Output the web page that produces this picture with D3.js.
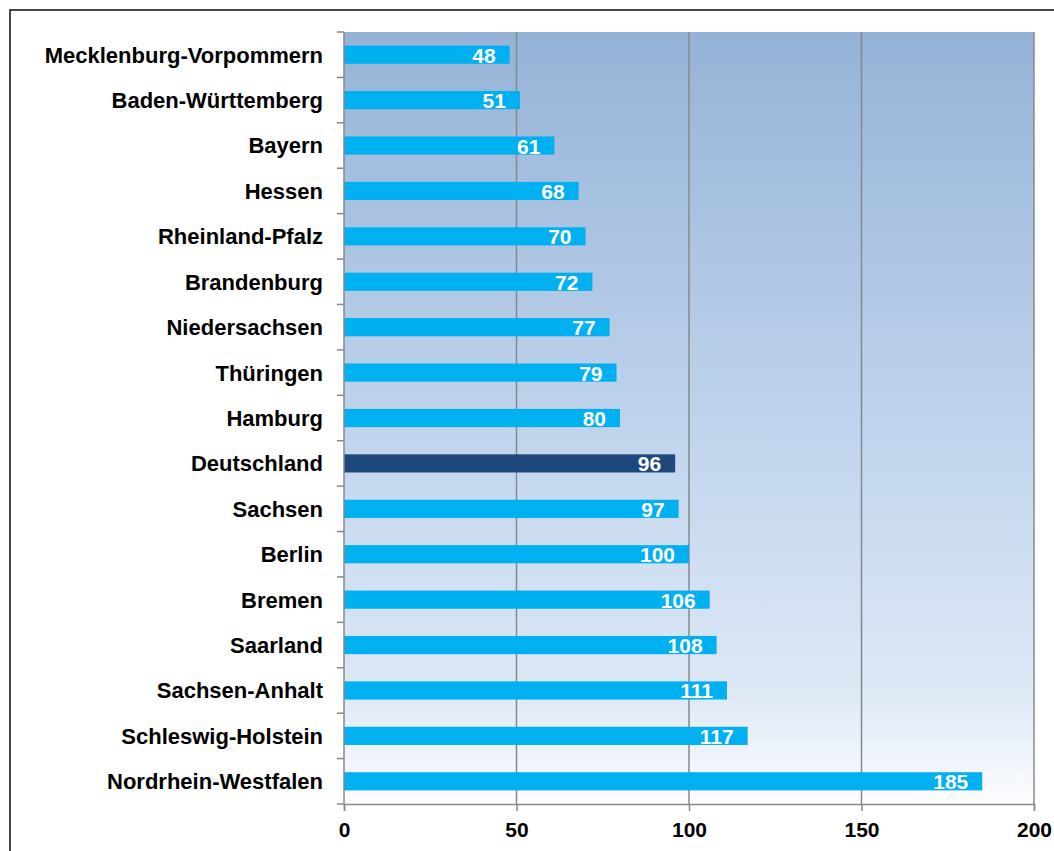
<!DOCTYPE html>
<html>
<head>
<meta charset="utf-8">
<script src="https://cdn.jsdelivr.net/npm/d3@7"></script>
<style>
  body { margin:0; background:#fff; }
  svg { display:block; font-family:"Liberation Sans", Arial, sans-serif; }
</style>
</head>
<body>
<div id="chart"></div>
<script>
// data, top to bottom
var laender = ["Mecklenburg-Vorpommern","Baden-Württemberg","Bayern","Hessen","Rheinland-Pfalz",
  "Brandenburg","Niedersachsen","Thüringen","Hamburg","Deutschland","Sachsen","Berlin","Bremen",
  "Saarland","Sachsen-Anhalt","Schleswig-Holstein","Nordrhein-Westfalen"];
var werte = [48,51,61,68,70,72,77,79,80,96,97,100,106,108,111,117,185];
var xTicks = [0,50,100,150,200];
var highlight = "Deutschland";

var W = 1054, H = 851;
var margin = {top:32, right:20, bottom:47, left:344};
var width = 1034 - margin.left, height = 804 - margin.top;

var svg = d3.select("#chart").append("svg")
    .attr("width", W).attr("height", H);

// outer frame
svg.append("rect")
    .attr("x", 10).attr("y", 10).attr("width", W + 20).attr("height", H + 20)
    .attr("fill", "none").attr("stroke", "#1a1a1a").attr("stroke-width", 1.6);

var defs = svg.append("defs");
var grad = defs.append("linearGradient").attr("id", "bg")
    .attr("x1", 0).attr("y1", 0).attr("x2", 0).attr("y2", 1);
grad.append("stop").attr("offset", "0%").attr("stop-color", "#95b3d7");
grad.append("stop").attr("offset", "55%").attr("stop-color", "#c3d6ee");
grad.append("stop").attr("offset", "85%").attr("stop-color", "#dde8f6");
grad.append("stop").attr("offset", "100%").attr("stop-color", "#fcfdff");

var g = svg.append("g").attr("transform", "translate(" + margin.left + "," + margin.top + ")");

g.append("rect").attr("width", width).attr("height", height).attr("fill", "url(#bg)");

var x = d3.scaleLinear().domain([0, 200]).range([0, width]);
var y = d3.scaleBand().domain(laender).range([0, height]).paddingInner(0.6).paddingOuter(0.3);

// grid lines
g.selectAll(".grid").data(xTicks.slice(1))
  .enter().append("line")
    .attr("x1", function(d){ return x(d); }).attr("x2", function(d){ return x(d); })
    .attr("y1", 0).attr("y2", height)
    .attr("stroke", "#888").attr("stroke-width", 1.5);

// bars
g.selectAll(".bar").data(laender)
  .enter().append("rect")
    .attr("x", 0)
    .attr("y", function(d){ return y(d); })
    .attr("width", function(d, i){ return x(werte[i]); })
    .attr("height", y.bandwidth())
    .attr("fill", function(d){ return d == highlight ? "#1f497d" : "#00b0f0"; });

// value labels
g.selectAll(".val").data(laender)
  .enter().append("text")
    .attr("x", function(d, i){ return x(werte[i]) - 14; })
    .attr("y", function(d){ return y(d) + y.bandwidth() / 2; })
    .attr("dy", "0.38em")
    .attr("text-anchor", "end")
    .attr("fill", "#fff")
    .attr("font-family", "Liberation Sans")
    .attr("font-weight", "bold")
    .attr("font-size", "21px")
    .text(function(d, i){ return werte[i]; });

// y axis: boundary ticks
var step = height / laender.length;
var yLines = d3.range(laender.length + 1);
g.append("line").attr("x1", 0).attr("x2", 0).attr("y1", 0).attr("y2", height)
    .attr("stroke", "#888").attr("stroke-width", 1.5);
g.selectAll(".ytick").data(yLines)
  .enter().append("line")
    .attr("x1", -7).attr("x2", 0)
    .attr("y1", function(d){ return d * step; }).attr("y2", function(d){ return d * step; })
    .attr("stroke", "#888").attr("stroke-width", 1.5);

g.selectAll(".ylab").data(laender)
  .enter().append("text")
    .attr("x", -21)
    .attr("y", function(d){ return y(d) + y.bandwidth() / 2; })
    .attr("dy", "0.36em")
    .attr("text-anchor", "end")
    .attr("font-family", "Liberation Sans")
    .attr("font-weight", "bold")
    .attr("font-size", "22px")
    .attr("fill", "#000")
    .text(function(d){ return d; });

// x axis
var xAxis = g.append("g").attr("transform", "translate(0," + height + ")")
    .call(d3.axisBottom(x).tickValues(xTicks).tickSize(7).tickPadding(11));
xAxis.select(".domain").attr("stroke", "#888").attr("stroke-width", 1.5);
xAxis.selectAll(".tick line").attr("stroke", "#888").attr("stroke-width", 1.5);
xAxis.selectAll(".tick text")
    .attr("font-family", "Liberation Sans")
    .attr("font-size", "21px").attr("font-weight", "bold").attr("fill", "#000");
</script>
</body>
</html>
